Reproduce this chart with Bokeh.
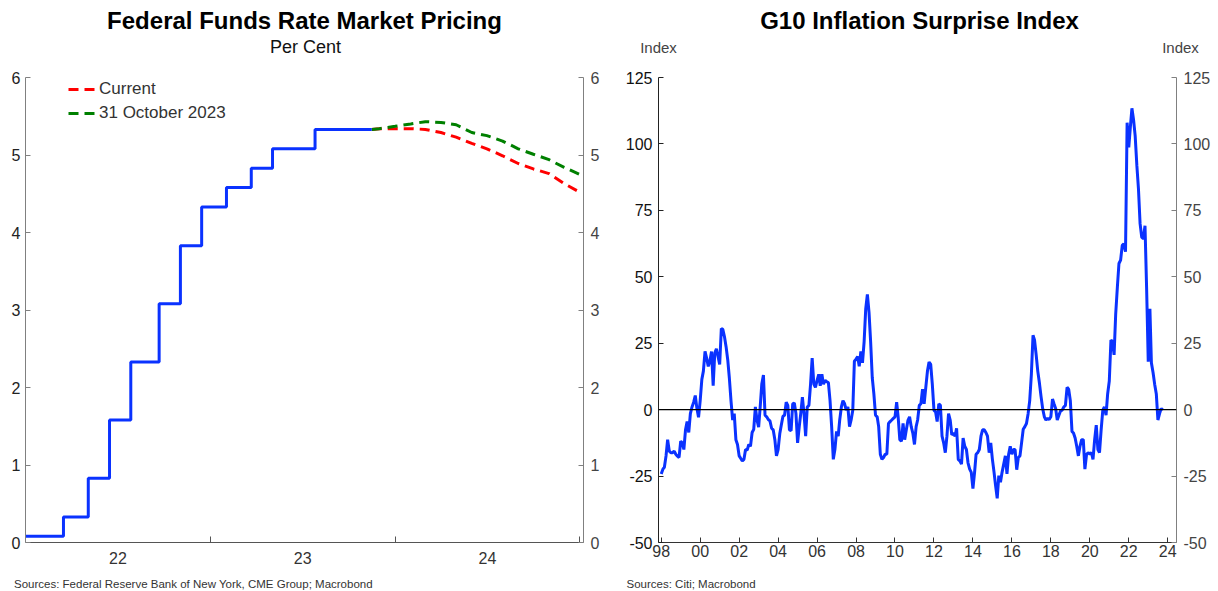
import pandas as pd
from bokeh.plotting import figure
from bokeh.layouts import row, column
from bokeh.models import (Range1d, LinearAxis, FixedTicker, Span, Label,
                          Legend, LegendItem)
from bokeh.embed import file_html
from bokeh.resources import INLINE

FONT = "Liberation Sans"

# ---------------- Left chart data: Federal Funds Rate ----------------
ffr_change_dates = ["2022-01-01", "2022-03-17", "2022-05-05", "2022-06-16",
                    "2022-07-28", "2022-09-22", "2022-11-03", "2022-12-15",
                    "2023-02-02", "2023-03-23", "2023-05-04", "2023-07-27",
                    "2023-11-16"]
ffr_levels = [0.08, 0.33, 0.83, 1.58, 2.33, 3.08, 3.83, 4.33, 4.58, 4.83,
              5.08, 5.33, 5.33]

fwd_dates = ["2023-11-16", "2023-12-01", "2024-01-01", "2024-02-01",
             "2024-03-01", "2024-04-01", "2024-05-01", "2024-06-01",
             "2024-07-01", "2024-08-01", "2024-09-01", "2024-10-01",
             "2024-11-01", "2024-12-01", "2025-01-01"]
fwd_current = [5.33, 5.34, 5.34, 5.34, 5.33, 5.29, 5.23, 5.15, 5.08, 4.99,
               4.89, 4.82, 4.76, 4.63, 4.52]
fwd_oct31 = [5.33, 5.34, 5.37, 5.40, 5.43, 5.42, 5.39, 5.29, 5.25, 5.18,
             5.08, 5.01, 4.94, 4.84, 4.75]

left_y_ticks = [0, 1, 2, 3, 4, 5, 6]
left_x_labels = {2022.5: "22", 2023.5: "23", 2024.5: "24"}
left_x_year_ticks = [2023, 2024, 2025]

# ---------------- Right chart data: G10 Inflation Surprise Index ----------------
surprise_start = "1998-01-01"
s1998 = [-24.2, -22.4, -21.7, -17.4, -11.3, -15.6, -16.2, -16.2, -15.6, -16.8, -17.5, -18.0]
s1999 = [-11.9, -12.5, -15.0, -7.6, -4.5, -8.6, -1.5, 1.0, 2.8, 5.3, 0.4, -2.9]
s2000 = [3.4, 11.4, 14.5, 21.9, 19.4, 16.3, 18.2, 21.9, 9.0, 21.3, 22.9, 20.0]
s2001 = [17.0, 30.5, 30.2, 27.4, 23.7, 18.8, 12.0, 3.4, -3.9, -1.5, -11.3, -13.1]
s2002 = [-17.4, -18.4, -19.3, -18.7, -15.0, -15.2, -13.1, -13.8, -8.6, -7.4, 1.0, -3.9]
s2003 = [-6.6, 1.5, 9.6, 13.0, -2.1, -2.7, -3.7, -4.2, -7.0, -7.6, -11.3, -17.4]
s2004 = [-15.0, -9.1, -5.8, -2.5, -2.1, 2.8, 1.6, -7.6, -7.9, 2.2, 2.5, -1.5]
s2005 = [-12.5, -6.4, -1.5, 4.7, -1.5, -10.0, 1.0, 1.6, 9.6, 19.4, 9.6, 8.4]
s2006 = [11.0, 13.3, 9.0, 13.3, 9.6, 11.0, 10.5, 10.2, 3.4, -6.4, -18.7, -15.0]
s2007 = [-8.2, -10.0, -3.9, 1.0, 3.4, 2.2, -0.2, 1.0, -6.4, -3.9, -0.2, 18.2]
s2008 = [19.0, 20.0, 16.3, 21.9, 17.6, 25.6, 37.9, 43.4, 36.6, 25.6, 12.0, 5.9]
s2009 = [-2.1, -2.7, -6.4, -16.8, -18.7, -18.0, -16.8, -16.8, -5.2, -4.5, -3.9, -3.3]
s2010 = [-2.7, 2.8, -2.7, -11.3, -11.9, -5.2, -11.3, -7.6, -4.0, -2.7, -6.4, -8.8]
s2011 = [-13.1, -6.4, -3.9, 1.6, 2.2, 7.7, 2.2, 8.4, 14.5, 17.9, 17.0, 9.6]
s2012 = [-0.2, -0.9, -4.5, 2.2, 1.6, -10.0, -12.5, -16.2, -10.0, -1.5, -3.9, -9.5]
s2013 = [-8.8, -10.0, -7.0, -18.7, -19.3, -20.5, -10.7, -13.8, -15.0, -20.0, -22.4, -23.6]
s2014 = [-29.7, -23.6, -16.8, -16.2, -15.0, -10.0, -7.6, -7.6, -8.6, -10.0, -16.2, -12.5]
s2015 = [-18.7, -23.6, -28.5, -33.4, -24.8, -27.3, -23.6, -20.5, -17.4, -24.2, -16.8, -13.8]
s2016 = [-16.8, -15.0, -15.0, -22.6, -18.0, -17.4, -12.5, -7.4, -6.4, -5.2, -1.5, 3.4]
s2017 = [13.3, 28.0, 26.2, 20.6, 14.5, 10.0, 5.0, 0.4, -2.7, -3.9, -3.3, -3.7]
s2018 = [-2.7, 4.0, 2.2, 0.4, -3.9, -2.1, -0.5, -0.2, 1.0, 1.6, 8.4, 7.7]
s2019 = [3.4, -8.2, -8.8, -10.7, -13.8, -17.4, -13.8, -11.3, -11.3, -22.4, -16.8, -16.2]
s2020 = [-16.8, -16.2, -18.7, -11.3, -5.8, -15.0, -16.2, -7.6, -0.2, 1.0, -2.1, 5.9]
s2021 = [10.8, 26.2, 25.6, 20.6, 36.0, 46.0, 55.0, 56.3, 61.8, 62.4, 59.4, 108.0]
s2022 = [98.7, 106.7, 113.4, 109.0, 103.0, 92.0, 83.3, 70.0, 64.9, 64.3, 69.2, 46.0]
s2023 = [18.0, 38.0, 17.6, 14.0, 9.6, 5.9, -3.9, -1.5, 0.4, -0.2]

right_y_ticks = [-50, -25, 0, 25, 50, 75, 100, 125]
right_x_ticks = list(range(1998, 2025, 2))

# ---------------- Texts ----------------
title_left = "Federal Funds Rate Market Pricing"
subtitle_left = "Per Cent"
title_right = "G10 Inflation Surprise Index"
unit_right = "Index"
source_left = "Sources: Federal Reserve Bank of New York, CME Group; Macrobond"
source_right = "Sources: Citi; Macrobond"
legend_labels = ["Current", "31 October 2023"]


def dec_year(s):
    t = pd.Timestamp(s)
    a = pd.Timestamp(year=t.year, month=1, day=1)
    b = pd.Timestamp(year=t.year + 1, month=1, day=1)
    return t.year + (t - a) / (b - a)


TOTAL_W, HEAD_H, FOOT_H, CH_H = 1218, 56, 21, 514
W1, W2 = 609, 609
BLUE = "#0a32ff"


def blank(width, height):
    f = figure(width=width, height=height, output_backend="svg",
               toolbar_location=None, x_axis_type=None, y_axis_type=None,
               x_range=Range1d(0, width), y_range=Range1d(0, height),
               min_border=0, min_border_left=0, min_border_right=0,
               min_border_top=0, min_border_bottom=0, outline_line_color=None,
               background_fill_color="white", border_fill_color="white")
    f.xgrid.visible = False
    f.ygrid.visible = False
    return f


def add_text(f, x, y, text, size, color="#000000", align="left", bold=False):
    # y is the vertical middle of the text, measured up from the bottom
    f.add_layout(Label(x=x, y=y, x_units="screen", y_units="screen", text=text,
                       text_align=align, text_baseline="middle",
                       text_font=FONT, text_font_size=size,
                       text_font_style="bold" if bold else "normal",
                       text_color=color))


# ======================= HEADER =======================
head = blank(TOTAL_W, HEAD_H)
add_text(head, 304, HEAD_H - 19.5, title_left, "24px", align="center", bold=True)
add_text(head, 305, HEAD_H - 46.5, subtitle_left, "18px", "#111111", align="center")
add_text(head, 919, HEAD_H - 19.5, title_right, "24px", align="center", bold=True)
add_text(head, 658, HEAD_H - 46.5, unit_right, "15px", "#444444", align="center")
add_text(head, 1180, HEAD_H - 46.5, unit_right, "15px", "#444444", align="center")

# ======================= LEFT FIGURE =======================
p1 = figure(width=W1, height=CH_H, output_backend="svg", toolbar_location=None,
            x_range=Range1d(2022.0, 2025.02), y_range=Range1d(0, 6),
            min_border_left=25, min_border_right=26, min_border_top=21,
            min_border_bottom=27, outline_line_color=None,
            background_fill_color="white", border_fill_color="white")
p1.xgrid.visible = False
p1.ygrid.visible = False

ffr_x = [dec_year(d) for d in ffr_change_dates]
fwd_x = [dec_year(d) for d in fwd_dates]

r_cur = p1.line(fwd_x, fwd_current, line_color="#ff0000", line_width=3,
                line_dash="10 6")
r_oct = p1.line(fwd_x, fwd_oct31, line_color="#008000", line_width=3,
                line_dash="10 6")
p1.step(ffr_x, ffr_levels, mode="after", line_color=BLUE, line_width=3)

xa = p1.xaxis[0]
xa.ticker = FixedTicker(ticks=list(left_x_labels.keys()), minor_ticks=left_x_year_ticks)
xa.major_label_overrides = left_x_labels
xa.major_tick_in = 0
xa.major_tick_out = 0
xa.minor_tick_in = 6
xa.minor_tick_out = 0
xa.axis_line_color = "#555555"
xa.minor_tick_line_color = "#555555"
xa.major_label_standoff = 9
xa.major_label_text_font = FONT
xa.major_label_text_font_size = "16px"
xa.major_label_text_color = "#333333"

ya = p1.yaxis[0]
ya.ticker = FixedTicker(ticks=left_y_ticks, minor_ticks=[])
ya2 = LinearAxis(ticker=FixedTicker(ticks=left_y_ticks, minor_ticks=[]))
p1.add_layout(ya2, "right")
for ax, so, lc in ((ya, 5, "#222222"), (ya2, 7, "#444444")):
    ax.major_tick_in = 5
    ax.major_tick_out = 0
    ax.minor_tick_line_color = None
    ax.axis_line_color = "#808080"
    ax.major_tick_line_color = "#808080"
    ax.major_label_standoff = so
    ax.major_label_text_font = FONT
    ax.major_label_text_font_size = "16px"
    ax.major_label_text_color = lc
    ax.major_label_overrides = {t: str(t) for t in left_y_ticks}

legend = Legend(items=[LegendItem(label=legend_labels[0], renderers=[r_cur]),
                       LegendItem(label=legend_labels[1], renderers=[r_oct])],
                location=(43, 419), border_line_color=None,
                background_fill_alpha=0, padding=0, margin=0, spacing=4,
                glyph_width=28, glyph_height=20, label_height=20,
                label_standoff=3, label_text_font=FONT,
                label_text_font_size="17px", label_text_color="#333333")
p1.add_layout(legend)

# ======================= RIGHT FIGURE =======================
p2 = figure(width=W2, height=CH_H, output_backend="svg", toolbar_location=None,
            x_range=Range1d(1997.86, 2024.45), y_range=Range1d(-50, 125),
            min_border_left=49, min_border_right=42, min_border_top=11,
            min_border_bottom=28, outline_line_color=None,
            background_fill_color="white", border_fill_color="white")
p2.xgrid.visible = False
p2.ygrid.visible = False

surprise = (s1998 + s1999 + s2000 + s2001 + s2002 + s2003 + s2004 + s2005 +
            s2006 + s2007 + s2008 + s2009 + s2010 + s2011 + s2012 + s2013 +
            s2014 + s2015 + s2016 + s2017 + s2018 + s2019 + s2020 + s2021 +
            s2022 + s2023)
months = pd.date_range(surprise_start, periods=len(surprise), freq="MS")
sx = [dec_year(m) for m in months]

p2.add_layout(Span(location=0, dimension="width", line_color="#000000",
                   line_width=1.2))
p2.line(sx, surprise, line_color=BLUE, line_width=3)

xb = p2.xaxis[0]
xb.ticker = FixedTicker(ticks=right_x_ticks, minor_ticks=[])
xb.major_label_overrides = {t: "%02d" % (t % 100) for t in right_x_ticks}
xb.major_tick_in = 5
xb.major_tick_out = 0
xb.minor_tick_line_color = None
xb.axis_line_color = "#333333"
xb.major_tick_line_color = "#333333"
xb.major_label_standoff = 2
xb.major_label_text_font = FONT
xb.major_label_text_font_size = "16px"
xb.major_label_text_color = "#333333"

yb = p2.yaxis[0]
yb.ticker = FixedTicker(ticks=right_y_ticks, minor_ticks=[])
yb2 = LinearAxis(ticker=FixedTicker(ticks=right_y_ticks, minor_ticks=[]))
p2.add_layout(yb2, "right")
for ax, so, col, lc in ((yb, 6, "#222222", "#111111"), (yb2, 7, "#808080", "#444444")):
    ax.major_tick_in = 5
    ax.major_tick_out = 0
    ax.minor_tick_line_color = None
    ax.axis_line_color = col
    ax.major_tick_line_color = col
    ax.major_label_standoff = so
    ax.major_label_text_font = FONT
    ax.major_label_text_font_size = "16px"
    ax.major_label_text_color = lc
    ax.major_label_overrides = {t: str(t) for t in right_y_ticks}

# ======================= FOOTER =======================
foot = blank(TOTAL_W, FOOT_H)
add_text(foot, 13.5, FOOT_H - 13.5, source_left, "11.5px", "#333333")
add_text(foot, 626, FOOT_H - 13.5, source_right, "11.5px", "#333333")

layout = column(head, row(p1, p2), foot)
open("out.html", "w").write(file_html(layout, INLINE))
